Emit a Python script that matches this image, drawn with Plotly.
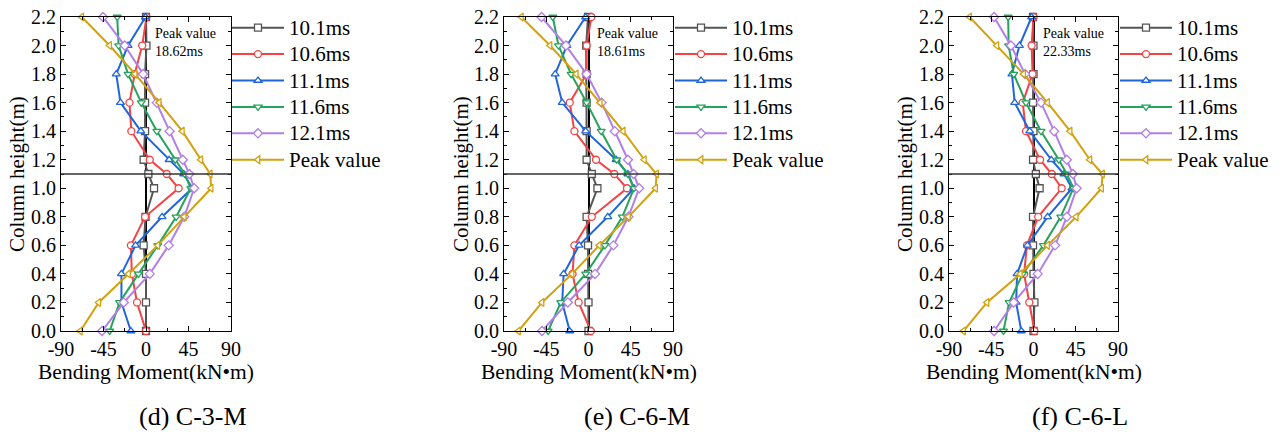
import plotly.graph_objects as go

heights = [0.0, 0.2, 0.4, 0.6, 0.8, 1.0, 1.1, 1.2, 1.4, 1.6, 1.8, 2.0, 2.2]
series_names = ["10.1ms", "10.6ms", "11.1ms", "11.6ms", "12.1ms", "Peak value"]

# (d) C-3-M
d_101 = [0, 0, 0, -2.5, -0.5, 8.5, 2.5, -2.5, -1, -1, -1, 0.5, 0]
d_106 = [0, -9.5, -15, -16, -1, 34.5, 22, 4, -15.5, -17.5, -12, -4, 0.5]
d_111 = [-16, -26, -26, -11, 17, 49, 40, 24.5, -5.5, -27, -31.5, -19, -0.5]
d_116 = [-38.5, -28, -8, 12.5, 32, 47.5, 41, 31, 11.5, -5, -19, -29, -30.5]
d_121 = [-46.5, -23.5, 4, 24, 40.5, 51, 46, 39, 25, 11.5, -3, -22.5, -45.5]
d_peak = [-69.5, -50, -18.5, 12.5, 40.5, 69, 68, 58, 38.5, 14, -11.5, -38.5, -68]

# (e) C-6-M
e_101 = [0, 0, -0.5, -0.5, -2, 9.5, 3.5, -2, -2, -2, -2, -2.5, -0.5]
e_106 = [2.5, -10.5, -17, -15, 3.5, 41, 27.5, 8, -15, -20, -2, -2, 3]
e_111 = [-20, -28, -26.5, -10, 20.5, 48.5, 42, 29.5, -3, -28, -35.5, -23, -3]
e_116 = [-43, -29.5, -3, 17.5, 36, 48.5, 42, 30, 13.5, -2, -18.5, -32, -38]
e_121 = [-49.5, -22, 7, 26.5, 42.5, 54, 48, 42, 28, 14, -2, -24, -50]
e_peak = [-74.5, -49.5, -17.5, 11.5, 42.5, 71.5, 72.5, 59.5, 37, 12.5, -13, -41, -71.5]

# (f) C-6-L
f_101 = [0, 1, 0, -0.5, -0.5, 6.5, 2.5, -0.5, 0, -0.5, 0, 0, -0.5]
f_106 = [1, -4.5, -10, -7, 5, 30, 19.5, 7, -8, -11.5, -1, -2, 0]
f_111 = [-13, -18.5, -17.5, -6.5, 15, 41, 32.5, 19, -4, -20, -23, -15, -2]
f_116 = [-32, -26, -11.5, 10.5, 29, 42.5, 35.5, 27, 8, -8, -21, -26.5, -27]
f_121 = [-42, -21, 4.5, 23, 35.5, 46, 42, 35.5, 22, 8, -9, -24, -42]
f_peak = [-74.5, -49.5, -14, 15, 45.5, 72.5, 73.5, 60, 39, 15, -10.5, -39, -68]

panels = [
    {"label": "(d) C-3-M", "peak": "Peak value<br>18.62ms",
     "data": [d_101, d_106, d_111, d_116, d_121, d_peak]},
    {"label": "(e) C-6-M", "peak": "Peak value<br>18.61ms",
     "data": [e_101, e_106, e_111, e_116, e_121, e_peak]},
    {"label": "(f) C-6-L", "peak": "Peak value<br>22.33ms",
     "data": [f_101, f_106, f_111, f_116, f_121, f_peak]},
]

x_ticks = [-90, -45, 0, 45, 90]
y_ticks = [0.0, 0.2, 0.4, 0.6, 0.8, 1.0, 1.2, 1.4, 1.6, 1.8, 2.0, 2.2]

colors = ["#555555", "#F24444", "#1F66DD", "#25A35B", "#B27FE6", "#D3A10E"]
symbols = ["square", "circle", "triangle-up", "triangle-down", "diamond", "triangle-left"]

W, H = 1283, 435
x_domains = [(61, 231), (504, 673), (949, 1118)]
y_dom = (1 - 331 / H, 1 - 17 / H)
legend_x = [227, 670, 1115]
peak_x = [7.4, 6.4, 8.5]
label_cx = [193, 637, 1080]
ytitle_x = [17, 461, 905]

FONT = "Liberation Serif"

fig = go.Figure()
layout = dict(
    width=W, height=H,
    margin=dict(l=0, r=0, t=0, b=0, pad=0, autoexpand=False),
    paper_bgcolor="white", plot_bgcolor="white",
    font=dict(family=FONT, size=18, color="black"),
    shapes=[], annotations=[],
)

for i, p in enumerate(panels):
    sfx = "" if i == 0 else str(i + 1)
    xa, ya = "x" + sfx, "y" + sfx
    leg = "legend" if i == 0 else "legend" + str(i + 1)
    for j, vals in enumerate(p["data"]):
        fig.add_trace(go.Scatter(
            x=vals, y=heights, mode="lines+markers",
            name='<span style="font-size:21px">%s</span>' % series_names[j],
            xaxis=xa, yaxis=ya, legend=leg, cliponaxis=False,
            line=dict(color=colors[j], width=2),
            marker=dict(symbol=symbols[j], size=7, color="white",
                        line=dict(color=colors[j], width=1.3)),
        ))
    axis_common = dict(showline=True, linecolor="black", linewidth=1.2,
                       mirror="ticks", ticks="inside", ticklen=5, tickwidth=1,
                       tickcolor="black", showgrid=False, automargin=False,
                       tickfont=dict(family=FONT, size=20, color="black"))
    layout["xaxis" + sfx] = dict(
        axis_common, domain=[x_domains[i][0] / W, x_domains[i][1] / W],
        anchor=ya, range=[-90, 90], tickvals=x_ticks,
        ticktext=[str(v) for v in x_ticks],
        zeroline=True, zerolinecolor="black", zerolinewidth=1.5,
        minor=dict(ticks="inside", ticklen=3, dtick=22.5, tick0=0,
                   tickcolor="black", showgrid=False),
    )
    layout["yaxis" + sfx] = dict(
        axis_common, domain=list(y_dom), anchor=xa, range=[0, 2.2],
        tickvals=y_ticks, ticktext=["%.1f" % v for v in y_ticks],
        zeroline=False,
        minor=dict(ticks="inside", ticklen=3, dtick=0.1, tick0=0,
                   tickcolor="black", showgrid=False),
    )
    layout[leg] = dict(
        x=legend_x[i] / W, y=1 - 9.5 / H, xanchor="left", yanchor="top",
        bgcolor="rgba(0,0,0,0)", borderwidth=0, itemwidth=52,
        tracegroupgap=0, font=dict(family=FONT, size=18, color="black"),
    )
    layout["shapes"].append(dict(
        type="line", xref=xa + " domain", yref=ya, x0=0, x1=1, y0=1.1, y1=1.1,
        line=dict(color="#333333", width=1.3), layer="above"))
    layout["annotations"].append(dict(
        text=p["peak"], xref=xa, yref="paper", x=peak_x[i], y=1 - 24 / H,
        xanchor="left", yanchor="top", align="left", showarrow=False,
        font=dict(family=FONT, size=14, color="black")))
    layout["annotations"].append(dict(
        text=p["label"], xref="paper", yref="paper", x=label_cx[i] / W,
        y=1 - 416 / H, xanchor="center", yanchor="middle", showarrow=False,
        font=dict(family=FONT, size=26, color="black")))
    layout["annotations"].append(dict(
        text="Bending Moment(kN\u2022m)", xref="paper", yref="paper",
        x=(x_domains[i][0] + x_domains[i][1]) / 2 / W, y=1 - 372 / H,
        xanchor="center", yanchor="middle", showarrow=False,
        font=dict(family=FONT, size=21.5, color="black")))
    layout["annotations"].append(dict(
        text="Column height(m)", xref="paper", yref="paper",
        x=ytitle_x[i] / W, y=1 - 174 / H, textangle=-90,
        xanchor="center", yanchor="middle", showarrow=False,
        font=dict(family=FONT, size=21, color="black")))

fig.update_layout(**layout)
fig.write_html("out.html")
